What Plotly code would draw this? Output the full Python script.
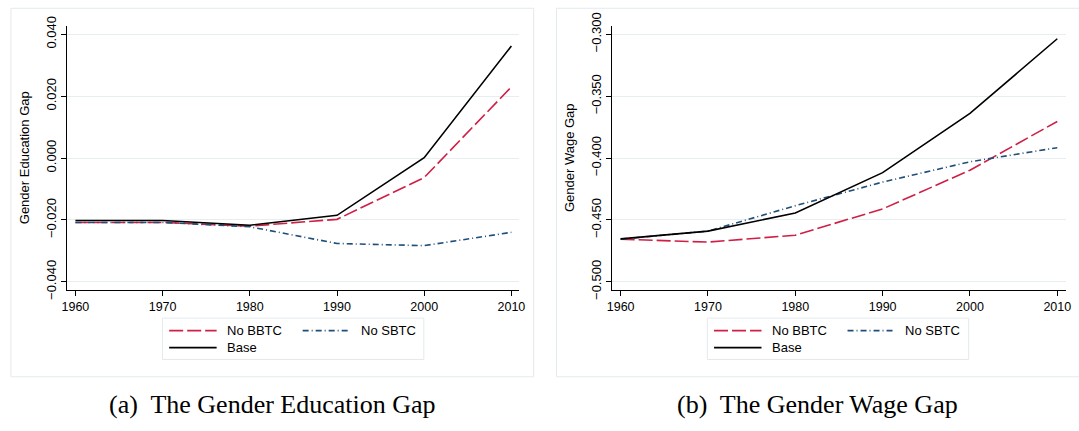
import plotly.graph_objects as go

W, H = 1079, 431

years = [1960, 1970, 1980, 1990, 2000, 2010]

edu_no_bbtc = [-0.0208, -0.0208, -0.0220, -0.0198, -0.0063, 0.0230]
edu_no_sbtc = [-0.0208, -0.0208, -0.0222, -0.0276, -0.0283, -0.0240]
edu_base = [-0.0202, -0.0202, -0.0217, -0.0185, 0.0001, 0.0362]

wage_no_bbtc = [-0.4655, -0.4679, -0.4623, -0.4411, -0.4098, -0.3704]
wage_no_sbtc = [-0.4655, -0.4590, -0.4385, -0.4194, -0.4030, -0.3916]
wage_base = [-0.4653, -0.4590, -0.4444, -0.4118, -0.3639, -0.3036]

series_names = ["No BBTC", "No SBTC", "Base"]
edu_ticks = [-0.04, -0.02, 0.0, 0.02, 0.04]
edu_ticktext = ["\u22120.040", "\u22120.020", "0.000", "0.020", "0.040"]
wage_ticks = [-0.50, -0.45, -0.40, -0.35, -0.30]
wage_ticktext = ["\u22120.500", "\u22120.450", "\u22120.400", "\u22120.350", "\u22120.300"]
x_ticks = [1960, 1970, 1980, 1990, 2000, 2010]
y_titles = ["Gender Education Gap", "Gender Wage Gap"]
captions = ["(a)  The Gender Education Gap", "(b)  The Gender Wage Gap"]

RED = "#cf1f45"
NAVY = "#1f4e79"
BLACK = "#000000"
GRID = "#e6eef0"
BORDER = "#e3eaec"
styles = [
    dict(color=RED, width=1.6, dash="14px,4px"),
    dict(color=NAVY, width=1.6, dash="6px,3px,1px,3px"),
    dict(color=BLACK, width=1.6, dash="solid"),
]

def px(x):
    return x / W

def py(y):
    return 1 - y / H

fig = go.Figure()

panels = [
    (edu_no_bbtc, edu_no_sbtc, edu_base, "x", "y"),
    (wage_no_bbtc, wage_no_sbtc, wage_base, "x2", "y2"),
]
for (a, b, c, xa, ya) in panels:
    for vals, name, st in zip([a, b, c], series_names, styles):
        fig.add_trace(go.Scatter(x=years, y=vals, mode="lines", name=name,
                                 line=st, xaxis=xa, yaxis=ya, showlegend=False))

font = dict(family="Liberation Sans, Arial, sans-serif", color="black")

common_x = dict(showline=True, linecolor="black", linewidth=1, ticks="outside",
                ticklen=5, tickcolor="black", tickvals=x_ticks, showgrid=False,
                zeroline=False, tickfont=dict(size=12.5, **font))
common_y = dict(showline=True, linecolor="black", linewidth=1, ticks="outside",
                ticklen=5, tickcolor="black", showgrid=True, gridcolor=GRID,
                gridwidth=1, zeroline=False, tickangle=-90,
                tickfont=dict(size=13, **font))

ydom = [py(292.3), py(13.5)]
fig.update_layout(
    width=W, height=H, margin=dict(l=0, r=0, t=0, b=0),
    paper_bgcolor="white", plot_bgcolor="white", showlegend=False,
    xaxis=dict(domain=[px(62), px(519)], range=[1959.07, 2010.9], anchor="y", **common_x),
    xaxis2=dict(domain=[px(613), px(1071.5)], range=[1959.03, 2010.95], anchor="y2", **common_x),
    yaxis=dict(domain=ydom, range=[-0.04254, 0.04275], anchor="x", tickvals=edu_ticks,
               ticktext=edu_ticktext,
               title=dict(text=y_titles[0], font=dict(size=13, **font), standoff=11), **common_y),
    yaxis2=dict(domain=ydom, range=[-0.50635, -0.29312], anchor="x2", tickvals=wage_ticks,
                ticktext=wage_ticktext,
                title=dict(text=y_titles[1], font=dict(size=13, **font), standoff=11), **common_y),
)

shapes = []
annotations = []
for i, off in enumerate([0, 551]):
    # panel border
    shapes.append(dict(type="rect", xref="paper", yref="paper",
                       x0=px(5 + off + (i * 0.7)), x1=px(533.6 + off + i * 60),
                       y0=py(384.3), y1=py(-5), line=dict(color=BORDER, width=1),
                       fillcolor="rgba(0,0,0,0)", layer="below"))
    # legend box
    shapes.append(dict(type="rect", xref="paper", yref="paper",
                       x0=px(158.2 + off), x1=px(422.5 + off), y0=py(366), y1=py(322.3),
                       line=dict(color=BORDER, width=1), fillcolor="white"))
    pos = [(165, 335.5), (300, 335.5), (165, 353.5)]
    for (lx, ly), name, st in zip(pos, series_names, styles):
        shapes.append(dict(type="line", xref="paper", yref="paper",
                           x0=px(lx + off), x1=px(lx + 48 + off), y0=py(ly), y1=py(ly),
                           line=dict(color=st["color"], width=1.8, dash=st["dash"])))
        annotations.append(dict(text=name, xref="paper", yref="paper", x=px(lx + 56.5 + off),
                                y=py(ly), xanchor="left", yanchor="middle", showarrow=False,
                                font=dict(size=13, **font)))
    annotations.append(dict(text=captions[i], xref="paper", yref="paper",
                            x=px(269 + i * 552), y=py(414), xanchor="center", yanchor="middle",
                            showarrow=False,
                            font=dict(family="Liberation Serif, Times New Roman, serif",
                                      size=26, color="black")))

fig.update_layout(shapes=shapes, annotations=annotations)
fig.write_html("out.html")
